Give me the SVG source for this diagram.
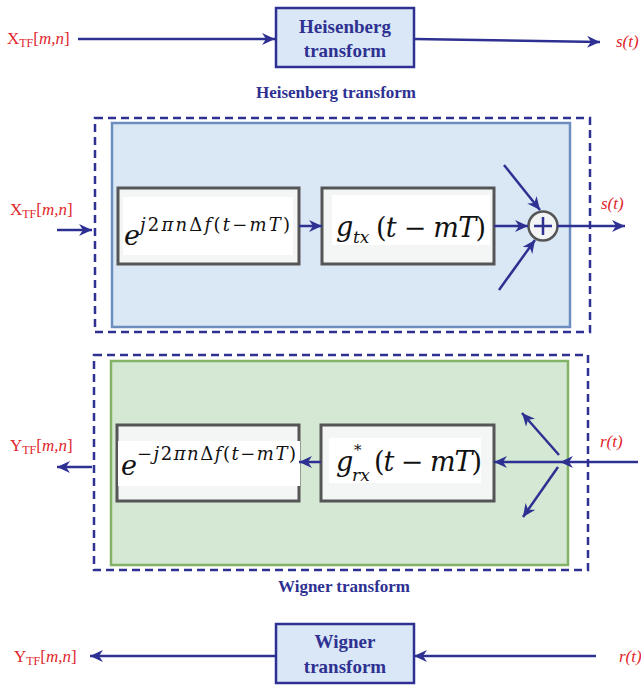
<svg xmlns="http://www.w3.org/2000/svg" width="641" height="691" viewBox="0 0 641 691">
<style>
.lbl{font-family:"Liberation Serif",serif;font-size:17px;fill:#e0262c}
.it{font-style:italic}
.sub{font-size:12px}
.ttl{font-family:"Liberation Serif",serif;font-weight:bold;fill:#2e3192;text-anchor:middle}
.ln{stroke:#2e3192;stroke-width:2.5;fill:none}
.dash{stroke:#2e3192;stroke-width:2.5;fill:none;stroke-dasharray:8 5}
.blk{fill:#f4f6f6;stroke:#555;stroke-width:3}
.math{font-family:"DejaVu Serif","Liberation Serif",serif;fill:#111}
.tbox{fill:#d9e7f6;stroke:#2e3192;stroke-width:2.5}
</style>
<defs>
<marker id="ah" markerUnits="userSpaceOnUse" markerWidth="14" markerHeight="12" refX="13" refY="6" orient="auto">
<path d="M0,0 L13,6 L0,12 L4,6 z" fill="#2e3192"/>
</marker>
</defs>

<g id="heis-top">
<text class="lbl" x="7" y="44">X<tspan class="sub" dy="3">TF</tspan><tspan dy="-3">[</tspan><tspan class="it">m,n</tspan>]</text>
<rect class="tbox" x="276" y="8" width="138" height="59"/>
<text class="ttl" font-size="19" x="345" y="33">Heisenberg</text>
<text class="ttl" font-size="19" x="345" y="57">transform</text>
<text class="lbl it" x="616" y="47">s(t)</text>
<text class="ttl" font-size="17" x="336" y="98">Heisenberg transform</text>
</g>

<g id="heis-panel">
<rect class="dash" x="95" y="118" width="495" height="214"/>
<rect x="112" y="123" width="458" height="204" fill="#dae8f6" stroke="#6c8ebf" stroke-width="2.5"/>
<text class="lbl" x="10" y="215">X<tspan class="sub" dy="3">TF</tspan><tspan dy="-3">[</tspan><tspan class="it">m,n</tspan>]</text>
<text class="lbl it" x="601" y="209" font-size="15">s(t)</text>
</g>

<g id="mod-tx">
<rect class="blk" x="118" y="188" width="181" height="76"/>
<rect x="123" y="197" width="170" height="58" fill="#fff"/>
<text class="math it" x="124" y="245" font-size="27">e</text>
<text class="math" x="140" y="231" font-size="18" textLength="150" lengthAdjust="spacing"><tspan class="it">j</tspan>2<tspan class="it">πn</tspan>Δ<tspan class="it">f</tspan>(<tspan class="it">t</tspan>−<tspan class="it">mT</tspan>)</text>
</g>

<g id="g-tx">
<rect class="blk" x="322" y="188" width="172" height="76"/>
<rect x="332" y="195" width="158" height="50" fill="#fff"/>
<text class="math it" x="336" y="236" font-size="27">g</text>
<text class="math it" x="353" y="243" font-size="17">tx</text>
<text class="math" x="376" y="237" font-size="27" textLength="110" lengthAdjust="spacing">(<tspan class="it">t</tspan> − <tspan class="it">mT</tspan>)</text>
</g>

<g id="sum">
<circle cx="543" cy="226" r="14.5" fill="#f3f5f5" stroke="#555" stroke-width="2.5"/>
<path d="M534,226 H552 M543,217 V235" stroke="#2e3192" stroke-width="2.5"/>
</g>

<g id="wig-panel">
<rect class="dash" x="94" y="355" width="494" height="215"/>
<rect x="111" y="361" width="457" height="204" fill="#d5e8d4" stroke="#82b366" stroke-width="2.5"/>
<text class="lbl" x="10" y="451">Y<tspan class="sub" dy="3">TF</tspan><tspan dy="-3">[</tspan><tspan class="it">m,n</tspan>]</text>
<text class="lbl it" x="600" y="447" font-size="15">r(t)</text>
<text class="ttl" font-size="17" x="344" y="592">Wigner transform</text>
</g>

<g id="demod-rx">
<rect class="blk" x="117" y="425" width="182" height="76"/>
<rect x="118" y="441" width="182" height="45" fill="#fff"/>
<text class="math it" x="121" y="475" font-size="27">e</text>
<text class="math" x="137" y="460" font-size="18" textLength="159" lengthAdjust="spacing">−<tspan class="it">j</tspan>2<tspan class="it">πn</tspan>Δ<tspan class="it">f</tspan>(<tspan class="it">t</tspan>−<tspan class="it">mT</tspan>)</text>
</g>

<g id="g-rx">
<rect class="blk" x="321" y="425" width="173" height="76"/>
<rect x="329" y="438" width="152" height="45" fill="#fff"/>
<text class="math it" x="336" y="471" font-size="27">g</text>
<text class="math" x="354" y="455" font-size="15">*</text>
<text class="math it" x="352" y="481" font-size="17">rx</text>
<text class="math" x="374" y="471" font-size="27" textLength="108" lengthAdjust="spacing">(<tspan class="it">t</tspan> − <tspan class="it">mT</tspan>)</text>
</g>

<g id="wig-bottom">
<rect class="tbox" x="276" y="624" width="138" height="59"/>
<text class="ttl" font-size="19" x="345" y="648">Wigner</text>
<text class="ttl" font-size="19" x="345" y="673">transform</text>
<text class="lbl" x="14" y="662">Y<tspan class="sub" dy="3">TF</tspan><tspan dy="-3">[</tspan><tspan class="it">m,n</tspan>]</text>
<text class="lbl it" x="619" y="662">r(t)</text>
</g>

<g id="connectors">
<line class="ln" x1="78" y1="39" x2="275" y2="39" marker-end="url(#ah)"/>
<line class="ln" x1="414" y1="39" x2="600" y2="42" marker-end="url(#ah)"/>
<line class="ln" x1="57" y1="230" x2="92" y2="230" marker-end="url(#ah)"/>
<line class="ln" x1="299" y1="226" x2="322" y2="226" marker-end="url(#ah)"/>
<line class="ln" x1="494" y1="226" x2="528" y2="226" marker-end="url(#ah)"/>
<line class="ln" x1="504" y1="165" x2="540" y2="210" marker-end="url(#ah)"/>
<line class="ln" x1="499" y1="290" x2="535" y2="240" marker-end="url(#ah)"/>
<line class="ln" x1="557" y1="226" x2="625" y2="226" marker-end="url(#ah)"/>
<line class="ln" x1="638" y1="462" x2="560" y2="462" marker-end="url(#ah)"/>
<line class="ln" x1="560" y1="462" x2="494" y2="462" marker-end="url(#ah)"/>
<line class="ln" x1="559" y1="455" x2="522" y2="413" marker-end="url(#ah)"/>
<line class="ln" x1="558" y1="467" x2="523" y2="517" marker-end="url(#ah)"/>
<line class="ln" x1="321" y1="462" x2="299" y2="462" marker-end="url(#ah)"/>
<line class="ln" x1="92" y1="467" x2="57" y2="467" marker-end="url(#ah)"/>
<line class="ln" x1="276" y1="656" x2="90" y2="656" marker-end="url(#ah)"/>
<line class="ln" x1="596" y1="656" x2="414" y2="656" marker-end="url(#ah)"/>
</g>
</svg>
